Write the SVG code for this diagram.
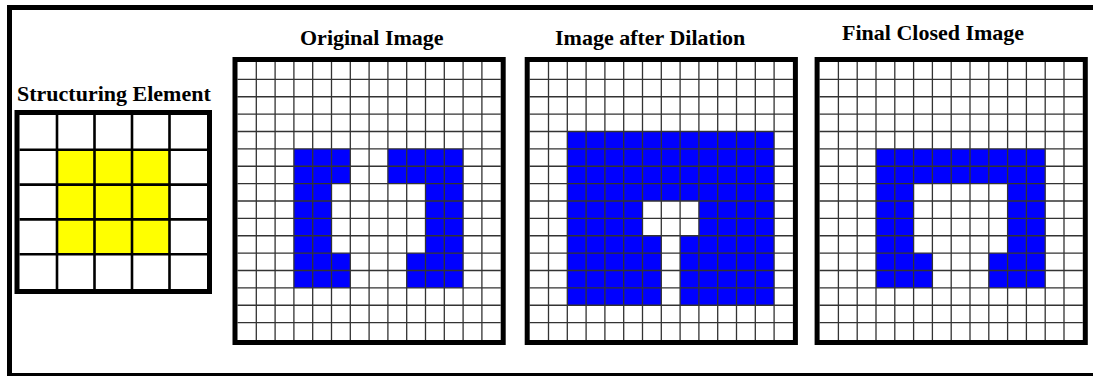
<svg xmlns="http://www.w3.org/2000/svg" width="1093" height="376" viewBox="0 0 1093 376">
<style>
.title{font-family:"Liberation Serif","Times New Roman",serif;font-weight:bold;font-size:22px;fill:#000}
.frame{fill:none;stroke:#000;stroke-width:5}
.thin{fill:none;stroke:#333;stroke-width:1.3}
.seline{fill:none;stroke:#000;stroke-width:2.6}
.blue{fill:#0000ff}
.white{fill:#fff}
.yellow{fill:#ffff00}
</style>
<defs>
<path id="bigGrid" class="thin" d="M18.8 0V278M37.6 0V278M56.4 0V278M75.2 0V278M94 0V278M112.8 0V278M131.6 0V278M150.4 0V278M169.2 0V278M188 0V278M206.8 0V278M225.6 0V278M244.4 0V278M0 17.375H263.2M0 34.75H263.2M0 52.125H263.2M0 69.5H263.2M0 86.875H263.2M0 104.25H263.2M0 121.625H263.2M0 139H263.2M0 156.375H263.2M0 173.75H263.2M0 191.125H263.2M0 208.5H263.2M0 225.875H263.2M0 243.25H263.2M0 260.625H263.2"/>
<rect id="bigFrame" class="frame" x="-2.5" y="-2.5" width="268.2" height="283"/>
</defs>
<rect x="0" y="0" width="1093" height="376" fill="#fff"/>
<rect class="frame" x="9.5" y="7.5" width="1100" height="368"/>

<g id="structuring-element">
<text class="title" x="17" y="101">Structuring Element</text>
<g transform="translate(19.5,115)">
<rect class="white" x="0" y="0" width="187.5" height="174"/>
<rect class="yellow" x="37.5" y="34.8" width="112.5" height="104.4"/>
<path class="seline" d="M37.5 0V174M75 0V174M112.5 0V174M150 0V174M0 34.8H187.5M0 69.6H187.5M0 104.4H187.5M0 139.2H187.5"/>
<rect class="frame" x="-2.5" y="-2.5" width="192.5" height="179"/>
</g>
</g>

<g id="original-image">
<text class="title" x="300" y="45">Original Image</text>
<g transform="translate(237.5,62)">
<rect class="white" x="0" y="0" width="263.2" height="278"/>
<rect class="blue" x="56.4" y="86.875" width="56.4" height="34.75"/>
<rect class="blue" x="56.4" y="121.625" width="37.6" height="69.5"/>
<rect class="blue" x="56.4" y="191.125" width="56.4" height="34.75"/>
<rect class="blue" x="150.4" y="86.875" width="75.2" height="34.75"/>
<rect class="blue" x="188" y="121.625" width="37.6" height="69.5"/>
<rect class="blue" x="169.2" y="191.125" width="56.4" height="34.75"/>
<use href="#bigGrid"/>
<use href="#bigFrame"/>
</g>
</g>

<g id="dilated-image">
<text class="title" x="555" y="45">Image after Dilation</text>
<g transform="translate(529.7,62)">
<rect class="white" x="0" y="0" width="263.2" height="278"/>
<rect class="blue" x="37.6" y="69.5" width="206.8" height="173.75"/>
<rect class="white" x="112.8" y="139" width="56.4" height="34.75"/>
<rect class="white" x="131.6" y="173.75" width="18.8" height="69.5"/>
<use href="#bigGrid"/>
<use href="#bigFrame"/>
</g>
</g>

<g id="closed-image">
<text class="title" x="842" y="40">Final Closed Image</text>
<g transform="translate(819.6,62)">
<rect class="white" x="0" y="0" width="263.2" height="278"/>
<rect class="blue" x="56.4" y="86.875" width="169.2" height="34.75"/>
<rect class="blue" x="56.4" y="121.625" width="37.6" height="69.5"/>
<rect class="blue" x="188" y="121.625" width="37.6" height="69.5"/>
<rect class="blue" x="56.4" y="191.125" width="56.4" height="34.75"/>
<rect class="blue" x="169.2" y="191.125" width="56.4" height="34.75"/>
<use href="#bigGrid"/>
<use href="#bigFrame"/>
</g>
</g>

<g id="connectors"></g>
</svg>
